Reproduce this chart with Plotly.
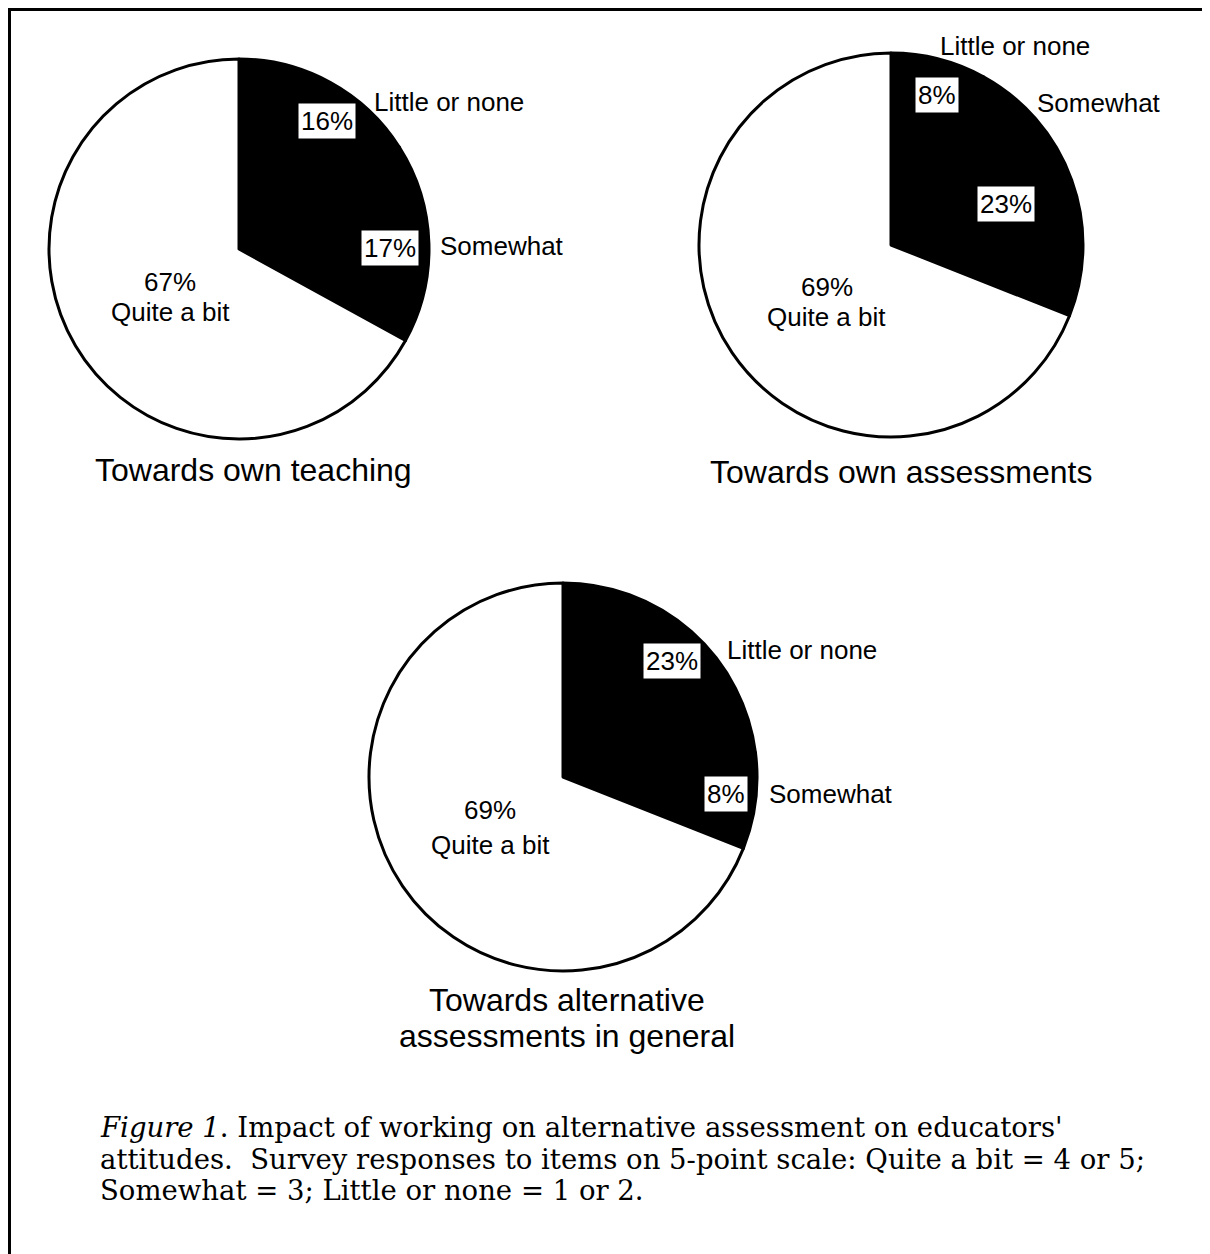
import plotly.graph_objects as go

# ---- data ----
categories = ["Little or none", "Somewhat", "Quite a bit"]
teaching_values = [16, 17, 67]
own_assess_values = [8, 23, 69]
general_values = [23, 8, 69]
pie_titles = [["Towards own teaching"],
              ["Towards own assessments"],
              ["Towards alternative", "assessments in general"]]
caption_lines = [
    "<i>Figure 1</i>. Impact of working on alternative assessment on educators'",
    "attitudes.  Survey responses to items on 5-point scale: Quite a bit = 4 or 5;",
    "Somewhat = 3; Little or none = 1 or 2.",
]

PAGE_W, PAGE_H = 1210, 1254
OFF = 8  # default page body margin
W, H = PAGE_W - OFF, PAGE_H - OFF
SANS = "Liberation Sans, Arial, Helvetica, sans-serif"
SERIF = "DejaVu Serif, Liberation Serif, serif"
slice_colors = ["black", "black", "white"]

def px(x):  # page pixel -> paper fraction
    return (x - OFF) / W

def py(y):
    return 1 - (y - OFF) / H

# layout geometry (page pixel centre, radius) for each pie
geoms = [(239, 249, 190), (891, 245, 192), (563, 777, 194)]
all_values = [teaching_values, own_assess_values, general_values]

fig = go.Figure()
for (cx, cy, r), vals in zip(geoms, all_values):
    fig.add_trace(go.Pie(
        labels=categories, values=vals, sort=False,
        direction="clockwise", rotation=0,
        marker=dict(colors=slice_colors, line=dict(color="black", width=3)),
        textinfo="none", hoverinfo="skip", showlegend=False,
        domain=dict(x=[px(cx - r), px(cx + r)], y=[py(cy + r), py(cy - r)]),
    ))

annotations = []

def add_text(x, y, text, size, family=SANS, xanchor="center", bg=None):
    a = dict(x=px(x), y=py(y), xref="paper", yref="paper", text=text,
             showarrow=False, xanchor=xanchor, yanchor="middle",
             font=dict(family=family, size=size, color="black"))
    if bg:
        a.update(bgcolor=bg, borderpad=2)
    annotations.append(a)

# per-pie label placements (page pixels)
label_pos = [
    dict(pct=[(327, 121), (390, 248)], cat=[(372, 102), (438, 246)], big=(170, 282, 312)),
    dict(pct=[(937, 95), (1006, 204)], cat=[(938, 46), (1035, 103)], big=(827, 287, 317)),
    dict(pct=[(672, 661), (726, 794)], cat=[(725, 650), (767, 794)], big=(490, 810, 845)),
]
title_pos = [(253, [470]), (901, [472]), (567, [1000, 1036])]

for vals, pos, titles, (tx, tys) in zip(all_values, label_pos, pie_titles, title_pos):
    for i in range(2):
        x, y = pos["pct"][i]
        add_text(x, y, f"{vals[i]}%", 26, bg="white")
        x, y = pos["cat"][i]
        add_text(x, y, categories[i], 26, xanchor="left")
    bx, by1, by2 = pos["big"]
    add_text(bx, by1, f"{vals[2]}%", 26)
    add_text(bx, by2, categories[2], 26)
    for t, ty in zip(titles, tys):
        add_text(tx, ty, t, 32)

for i, line in enumerate(caption_lines):
    add_text(98, 1127 + i * 31.5, line, 27.5, family=SERIF, xanchor="left")

fig.update_layout(
    width=W, height=H, margin=dict(l=0, r=0, t=0, b=0),
    paper_bgcolor="white", plot_bgcolor="white",
    annotations=annotations,
    shapes=[
        dict(type="line", xref="paper", yref="paper", x0=0, x1=1.0,
             y0=1 - 1.5 / H, y1=1 - 1.5 / H, line=dict(color="black", width=3)),
        dict(type="line", xref="paper", yref="paper", x0=1.5 / W, x1=1.5 / W,
             y0=1, y1=0, line=dict(color="black", width=3)),
    ],
)

fig.write_html("out.html")
